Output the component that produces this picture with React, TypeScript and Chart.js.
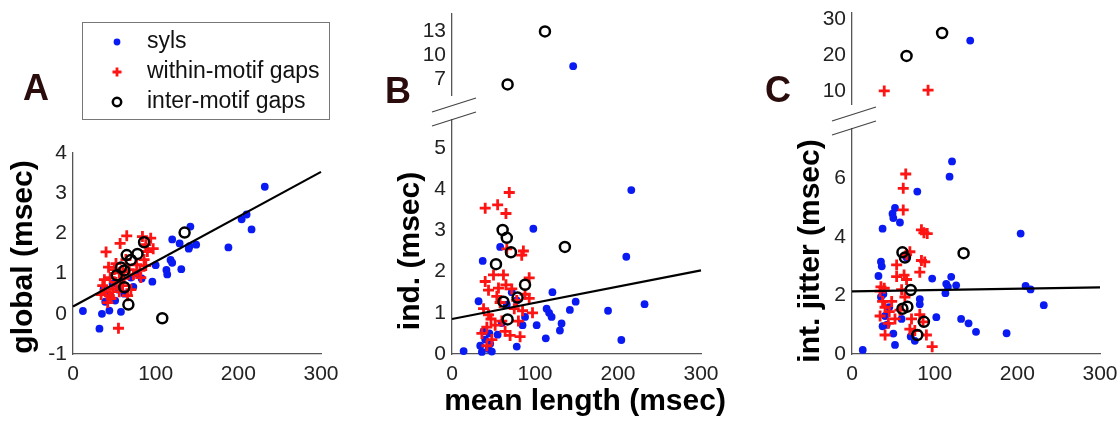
import React, { useEffect, useRef } from "react";
import { Chart, registerables } from "chart.js";

Chart.register(...registerables);

const FONT = "'Liberation Sans', Arial, Helvetica, sans-serif";
const AXIS_COLOR = "#555";
const TICK_COLOR = "#222";
const BLUE = "#0a1af2";
const RED = "#ff1414";
const LETTER_COLOR = "#2a0c0c";

type P = [number, number];

// ---- series names / tick labels ----
const seriesNames = ["syls", "within-motif gaps", "inter-motif gaps"];
const xTicks = [0, 100, 200, 300];
const yTicksA = [-1, 0, 1, 2, 3, 4];
const yTicksBLow = [0, 1, 2, 3, 4, 5];
const yTicksBHigh = [7, 10, 13];
const yTicksCLow = [0, 2, 4, 6];
const yTicksCHigh = [10, 20, 30];

// ---- Panel A : global (msec) vs mean length ----
const sylsA: P[] = [
  [12, 0.07], [32, -0.37], [35, 0.0], [44, 0.08], [58, 0.05], [39, 0.3], [51, 0.33], [37, 0.62],
  [45, 0.45], [55, 0.6], [62, 0.5], [73, 0.67], [83, 0.88], [96, 0.8], [100, 1.21], [113, 1.09],
  [114, 0.98], [118, 1.34], [120, 1.27], [131, 1.11], [120, 1.85], [129, 1.75], [140, 1.62],
  [141, 1.68], [142, 2.17], [149, 1.72], [188, 1.65], [204, 2.35], [210, 2.47], [216, 2.1],
  [232, 3.16], [70, 0.9], [78, 1.0], [48, 0.75],
];
const withinA: P[] = [
  [65, 1.94], [57, 1.75], [40, 1.54], [84, 1.92], [94, 1.88], [97, 1.62], [88, 1.72], [90, 1.55],
  [43, 1.16], [50, 1.1], [56, 1.02], [52, 1.25], [77, 1.22], [81, 1.08], [88, 1.2], [73, 0.97],
  [82, 0.9], [36, 0.7], [40, 0.55], [44, 0.45], [48, 0.62], [52, 0.78], [56, 0.55], [60, 0.7],
  [38, 0.85], [42, 0.28], [46, 0.38], [34, 0.48], [55, -0.36], [62, 0.88], [68, 1.1], [70, 0.6],
  [64, 1.35], [60, 1.05], [86, 1.35], [45, 0.9], [66, 0.45],
];
const interA: P[] = [
  [53, 0.96], [62, 1.08], [65, 1.46], [70, 1.34], [78, 1.49], [86, 1.78], [62, 0.66], [67, 0.23],
  [108, -0.11], [135, 2.02], [58, 1.15],
];
const fitA: P[] = [[0, 0.18], [300, 3.53]];

// ---- Panel B : ind. (msec) vs mean length ----
const sylsBLow: P[] = [
  [14, 0.07], [37, 2.26], [32, 1.28], [58, 2.6], [98, 3.04], [102, 0.7], [113, 0.38], [121, 1.5],
  [114, 1.1], [117, 1.0], [120, 0.9], [132, 0.74], [130, 0.57], [142, 1.07], [149, 1.27],
  [188, 1.05], [204, 0.34], [210, 2.36], [216, 3.98], [232, 1.21], [34, 0.2], [36, 0.05],
  [40, 0.35], [44, 0.12], [46, 0.25], [48, 0.06], [38, 0.55], [45, 0.5], [78, 0.18], [72, 1.5],
  [78, 1.3], [60, 0.75], [55, 0.47], [88, 0.9], [85, 0.7], [66, 1.2],
];
const withinBLow: P[] = [
  [69, 3.92], [40, 3.54], [55, 3.62], [65, 3.41], [86, 2.5], [84, 2.4], [66, 2.55], [40, 1.76],
  [50, 1.92], [62, 1.92], [93, 1.85], [44, 1.55], [56, 1.6], [65, 1.68], [72, 1.58], [93, 1.35],
  [97, 1.0], [38, 1.1], [44, 0.95], [36, 0.5], [42, 0.2], [82, 0.42], [80, 0.8], [85, 1.05],
  [60, 0.8], [64, 0.55], [70, 0.45], [52, 0.7], [47, 0.85], [58, 1.25], [75, 1.1], [88, 1.45],
  [54, 1.4], [42, 0.65], [48, 0.35], [78, 1.3],
];
const interBLow: P[] = [
  [61, 3.01], [66, 2.82], [71, 2.47], [53, 2.18], [136, 2.6], [88, 1.68], [79, 1.37], [62, 1.27],
  [67, 0.84],
];
const sylsBHigh: P[] = [[146, 8.6]];
const withinBHigh: P[] = [];
const interBHigh: P[] = [[112, 13.0], [67, 6.3]];
const fitB: P[] = [[0, 0.85], [300, 2.03]];

// ---- Panel C : int. jitter (msec) vs mean length ----
const sylsCLow: P[] = [
  [13, 0.14], [52, 0.31], [121, 6.59], [118, 6.07], [79, 5.56], [52, 5.0], [49, 4.8], [50, 4.65],
  [58, 4.5], [37, 4.29], [35, 3.16], [36, 3.0], [32, 2.67], [97, 2.58], [120, 2.64], [114, 2.4],
  [116, 2.3], [126, 2.35], [113, 2.08], [204, 4.12], [210, 2.33], [216, 2.21], [232, 1.67],
  [102, 1.26], [132, 1.2], [141, 1.05], [150, 0.76], [187, 0.71], [82, 1.88], [82, 1.7],
  [38, 2.05], [35, 1.95], [40, 1.3], [42, 1.0], [37, 0.95], [71, 0.6], [76, 0.45], [66, 3.3],
  [50, 0.7], [45, 1.6], [60, 1.2],
];
const withinCLow: P[] = [
  [65, 6.16], [62, 5.67], [62, 4.93], [84, 4.25], [87, 4.15], [91, 4.12], [70, 3.5], [66, 3.4],
  [84, 3.2], [88, 3.15], [82, 2.8], [54, 3.05], [54, 2.65], [63, 2.7], [66, 2.55], [35, 2.3],
  [39, 2.25], [34, 2.15], [37, 1.8], [40, 1.6], [34, 1.3], [45, 1.45], [52, 1.2], [64, 1.95],
  [70, 0.85], [76, 0.8], [40, 0.65], [90, 0.65], [97, 0.25], [82, 1.35], [86, 1.1], [48, 1.8],
  [58, 1.5], [72, 1.2], [44, 1.05], [60, 2.2],
];
const interCLow: P[] = [
  [61, 3.48], [64, 3.3], [71, 2.19], [61, 1.55], [67, 1.62], [87, 1.1], [79, 0.65], [135, 3.45],
];
const sylsCHigh: P[] = [[143, 24.1]];
const withinCHigh: P[] = [[39, 10.0], [92, 10.2]];
const interCHigh: P[] = [[109, 26.2], [66, 19.8]];
const fitC: P[] = [[0, 2.14], [300, 2.28]];

interface TitleSpec {
  text: string;
  cx: number; // page coords of text centre
  cy: number;
  vertical: boolean;
}

interface PanelSpec {
  left: number;
  top: number;
  width: number;
  height: number;
  pad: { left: number; top: number; right: number; bottom: number };
  yWidth: number;
  xHeight: number;
  showX: boolean;
  yMin: number;
  yMax: number;
  yTicks: number[];
  titles: TitleSpec[];
  syls: P[];
  within: P[];
  inter: P[];
  fit?: P[];
  breakMarks?: boolean;
  legend?: boolean;
}

const toXY = (a: P[]) => a.map(([x, y]) => ({ x, y }));

function legendPlugin() {
  return {
    id: "boxLegend",
    afterDraw(chart: any) {
      const ctx = chart.ctx as CanvasRenderingContext2D;
      ctx.save();
      ctx.strokeStyle = "#777";
      ctx.lineWidth = 1;
      ctx.strokeRect(82.5, 22.5, 247, 97);
      const rows = [42, 72, 102];
      const mx = 117;
      ctx.fillStyle = BLUE;
      ctx.beginPath();
      ctx.arc(mx, rows[0], 3.4, 0, Math.PI * 2);
      ctx.fill();
      ctx.strokeStyle = RED;
      ctx.lineWidth = 2.8;
      ctx.beginPath();
      ctx.moveTo(mx - 4.5, rows[1]);
      ctx.lineTo(mx + 4.5, rows[1]);
      ctx.moveTo(mx, rows[1] - 4.5);
      ctx.lineTo(mx, rows[1] + 4.5);
      ctx.stroke();
      ctx.strokeStyle = "#000";
      ctx.lineWidth = 2.5;
      ctx.beginPath();
      ctx.arc(mx, rows[2], 4.2, 0, Math.PI * 2);
      ctx.stroke();
      ctx.fillStyle = "#111";
      ctx.font = `23px ${FONT}`;
      ctx.textBaseline = "middle";
      ctx.textAlign = "left";
      seriesNames.forEach((n, i) => ctx.fillText(n, 147, rows[i]));
      ctx.restore();
    },
  };
}

function breakPlugin() {
  return {
    id: "axisBreak",
    afterDraw(chart: any) {
      const { left, top } = chart.chartArea;
      const ctx = chart.ctx as CanvasRenderingContext2D;
      ctx.save();
      ctx.strokeStyle = "#444";
      ctx.lineWidth = 1.2;
      ctx.beginPath();
      ctx.moveTo(left - 20, top - 8);
      ctx.lineTo(left + 24, top - 22);
      ctx.moveTo(left - 20, top + 6);
      ctx.lineTo(left + 24, top - 8);
      ctx.stroke();
      ctx.restore();
    },
  };
}

function titlePlugin(s: PanelSpec) {
  return {
    id: "axisTitles",
    afterDraw(chart: any) {
      const ctx = chart.ctx as CanvasRenderingContext2D;
      ctx.save();
      ctx.fillStyle = "#000";
      ctx.font = `bold 30px ${FONT}`;
      ctx.textAlign = "center";
      ctx.textBaseline = "middle";
      s.titles.forEach((t) => {
        ctx.save();
        ctx.translate(t.cx - s.left, t.cy - s.top);
        if (t.vertical) ctx.rotate(-Math.PI / 2);
        ctx.fillText(t.text, 0, 0);
        ctx.restore();
      });
      ctx.restore();
    },
  };
}

function fixedSize(sc: any, w: number | null, h: number | null) {
  if (w !== null) sc.width = w;
  if (h !== null) sc.height = h;
  sc.paddingTop = 0;
  sc.paddingBottom = 0;
  sc.paddingLeft = 0;
  sc.paddingRight = 0;
}

function buildConfig(s: PanelSpec): any {
  const datasets: any[] = [];
  if (s.fit) {
    datasets.push({
      label: "fit",
      data: toXY(s.fit),
      showLine: true,
      borderColor: "#000",
      borderWidth: 2.2,
      pointRadius: 0,
      fill: false,
      clip: false,
    });
  }
  datasets.push(
    {
      label: seriesNames[2],
      data: toXY(s.inter),
      pointStyle: "circle",
      pointRadius: 5,
      pointBackgroundColor: "rgba(0,0,0,0)",
      pointBorderColor: "#000",
      pointBorderWidth: 2.5,
      clip: false,
    },
    {
      label: seriesNames[1],
      data: toXY(s.within),
      pointStyle: "cross",
      pointRadius: 5.5,
      pointBorderColor: RED,
      pointBorderWidth: 2.8,
      clip: false,
    },
    {
      label: seriesNames[0],
      data: toXY(s.syls),
      pointStyle: "circle",
      pointRadius: 3.9,
      pointBackgroundColor: BLUE,
      pointBorderColor: BLUE,
      pointBorderWidth: 0,
      clip: false,
    }
  );
  const plugins: any[] = [titlePlugin(s)];
  if (s.legend) plugins.push(legendPlugin());
  if (s.breakMarks) plugins.push(breakPlugin());

  const tickFont = { family: FONT, size: 21 };

  return {
    type: "scatter",
    data: { datasets },
    plugins,
    options: {
      animation: false,
      responsive: false,
      maintainAspectRatio: false,
      events: [],
      layout: { padding: s.pad },
      plugins: { legend: { display: false }, tooltip: { enabled: false } },
      scales: {
        x: {
          type: "linear",
          display: s.showX,
          min: 0,
          max: 300,
          afterBuildTicks: (sc: any) => {
            sc.ticks = xTicks.map((v) => ({ value: v }));
          },
          afterFit: (sc: any) => fixedSize(sc, null, s.xHeight),
          grid: { display: false, drawTicks: false },
          border: { display: true, color: AXIS_COLOR, width: 1.3 },
          ticks: { font: tickFont, color: TICK_COLOR, padding: 8, maxRotation: 0, autoSkip: false },
        },
        y: {
          type: "linear",
          min: s.yMin,
          max: s.yMax,
          afterBuildTicks: (sc: any) => {
            sc.ticks = s.yTicks.map((v) => ({ value: v }));
          },
          afterFit: (sc: any) => fixedSize(sc, s.yWidth, null),
          grid: { display: false, drawTicks: false },
          border: { display: true, color: AXIS_COLOR, width: 1.3 },
          ticks: { font: tickFont, color: TICK_COLOR, padding: 6, autoSkip: false },
        },
      },
    },
  };
}

function Panel({ spec }: { spec: PanelSpec }) {
  const ref = useRef<HTMLCanvasElement>(null);
  useEffect(() => {
    const chart = new Chart(ref.current as HTMLCanvasElement, buildConfig(spec));
    return () => chart.destroy();
  }, []);
  return (
    <canvas
      ref={ref}
      width={spec.width}
      height={spec.height}
      style={{ position: "absolute", left: spec.left, top: spec.top, width: spec.width, height: spec.height }}
    />
  );
}

const panels: PanelSpec[] = [
  {
    left: 0, top: 0, width: 346, height: 394,
    pad: { left: 0, top: 153, right: 25, bottom: 0 },
    yWidth: 73, xHeight: 40, showX: true,
    yMin: -1, yMax: 4, yTicks: yTicksA,
    titles: [{ text: "global (msec)", cx: 24, cy: 257, vertical: true }],
    syls: sylsA, within: withinA, inter: interA, fit: fitA, legend: true,
  },
  {
    left: 380, top: 0, width: 346, height: 103,
    pad: { left: 0, top: 14, right: 25, bottom: 0 },
    yWidth: 72, xHeight: 0, showX: false,
    yMin: 4.9, yMax: 15.2, yTicks: yTicksBHigh, titles: [],
    syls: sylsBHigh, within: withinBHigh, inter: interBHigh,
  },
  {
    left: 380, top: 90, width: 346, height: 331,
    pad: { left: 0, top: 30, right: 25, bottom: 0 },
    yWidth: 72, xHeight: 67, showX: true,
    yMin: 0, yMax: 5.68, yTicks: yTicksBLow,
    titles: [
      { text: "ind. (msec)", cx: 411, cy: 251, vertical: true },
      { text: "mean length (msec)", cx: 585, cy: 402, vertical: false },
    ],
    syls: sylsBLow, within: withinBLow, inter: interBLow, fit: fitB, breakMarks: true,
  },
  {
    left: 780, top: 0, width: 338, height: 113,
    pad: { left: 0, top: 13, right: 18, bottom: 0 },
    yWidth: 72, xHeight: 0, showX: false,
    yMin: 6.15, yMax: 31.8, yTicks: yTicksCHigh, titles: [],
    syls: sylsCHigh, within: withinCHigh, inter: interCHigh,
  },
  {
    left: 780, top: 100, width: 338, height: 294,
    pad: { left: 0, top: 29, right: 18, bottom: 0 },
    yWidth: 72, xHeight: 40, showX: true,
    yMin: 0, yMax: 7.7, yTicks: yTicksCLow,
    titles: [{ text: "int. jitter (msec)", cx: 811, cy: 251, vertical: true }],
    syls: sylsCLow, within: withinCLow, inter: interCLow, fit: fitC, breakMarks: true,
  },
];

const letters = [
  { text: "A", left: 23, top: 70 },
  { text: "B", left: 385, top: 73 },
  { text: "C", left: 765, top: 72 },
];

export default function App() {
  return (
    <div
      style={{
        position: "fixed",
        left: 0,
        top: 0,
        width: 1119,
        height: 421,
        background: "#fff",
        overflow: "hidden",
      }}
    >
      {panels.map((p, i) => (
        <Panel key={i} spec={p} />
      ))}
      {letters.map((l) => (
        <div
          key={l.text}
          style={{
            position: "absolute",
            left: l.left,
            top: l.top,
            fontFamily: FONT,
            fontWeight: "bold",
            fontSize: 36,
            lineHeight: 1,
            color: LETTER_COLOR,
          }}
        >
          {l.text}
        </div>
      ))}
    </div>
  );
}
